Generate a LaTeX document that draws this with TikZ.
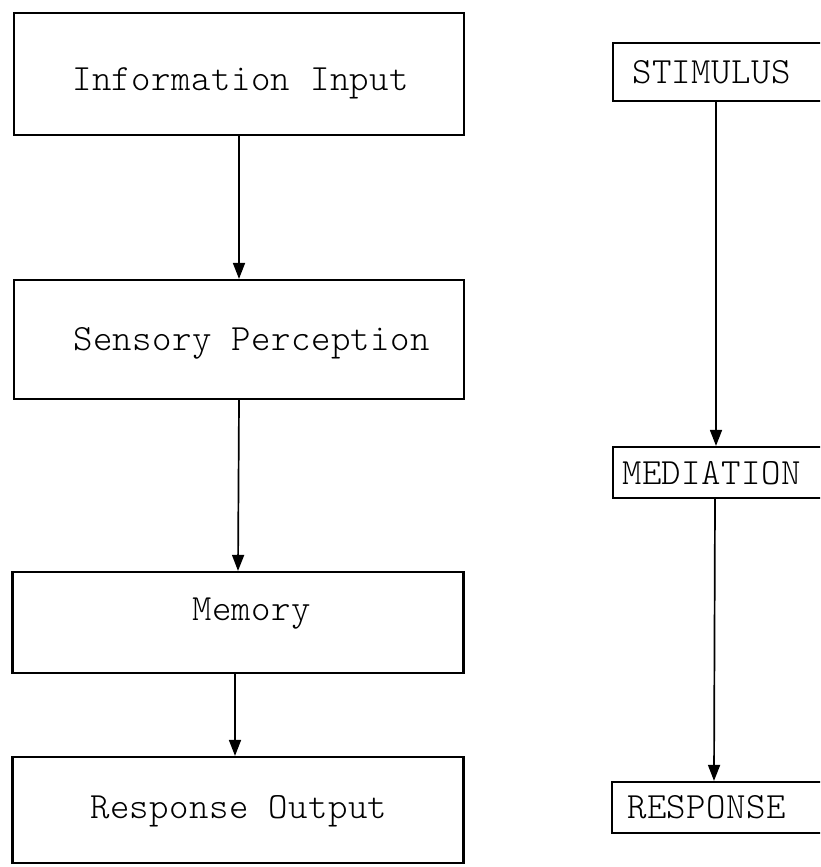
\documentclass[tikz,border=0pt]{standalone}
\usepackage{fontspec}
\usetikzlibrary{arrows.meta}
\newfontfamily\typerfont[LetterSpace=1.2]{Latin Modern Mono Light}
\tikzset{
  block/.style={draw, line width=2.2pt, rectangle, inner sep=0pt},
  label/.style={inner sep=0pt, anchor=base west, font=\typerfont\fontsize{37}{40}\selectfont},
  arr/.style={line width=1.7pt, -{Triangle[width=12pt,length=16pt]}},
}
\begin{document}
\begin{tikzpicture}[x=1pt,y=-1pt]
  \useasboundingbox (0,0) rectangle (820,867);
  \fill[white] (0,0) rectangle (820,867);
  \clip (0,0) rectangle (820,867);

  % left column: processing stages
  \node[block, minimum width=450pt, minimum height=122pt] (info) at (239,74) {};
  \node[block, minimum width=450pt, minimum height=119pt] (sens) at (239,339.5) {};
  \node[block, minimum width=451pt, minimum height=101pt] (mem)  at (238,622.5) {};
  \node[block, minimum width=451pt, minimum height=106pt] (resp) at (238,810) {};

  \node[label] (tinfo) at (72,90)  {Information Input};
  \node[label] (tsens) at (73,350) {Sensory Perception};
  \node[label] (tmem)  at (192,620) {Memory};
  \node[label] (tresp) at (90,818) {Response Output};

  \draw[arr] (info.south) -- (sens.north);
  \draw[arr] (sens.south) -- (mem.north);
  \draw[arr] ([xshift=-3pt]mem.south) -- ([xshift=-3pt]resp.north);

  % right column: boxes run off the right edge
  \node[block, minimum width=240pt, minimum height=58pt] (stim) at (733,72) {};
  \node[block, minimum width=240pt, minimum height=51pt] (medi) at (733,472.5) {};
  \node[block, minimum width=240pt, minimum height=51pt] (rspn) at (732,807.5) {};

  \node[label] (tstim) at (632,83)  {STIMULUS};
  \node[label] (tmedi) at (622,484) {MEDIATION};
  \node[label] (trspn) at (627,818) {RESPONSE};

  \draw[arr] ([xshift=-17pt]stim.south) -- ([xshift=-17pt]medi.north);
  \draw[arr] ([xshift=-18pt]medi.south) -- ([xshift=-18pt]rspn.north);
\end{tikzpicture}
\end{document}
